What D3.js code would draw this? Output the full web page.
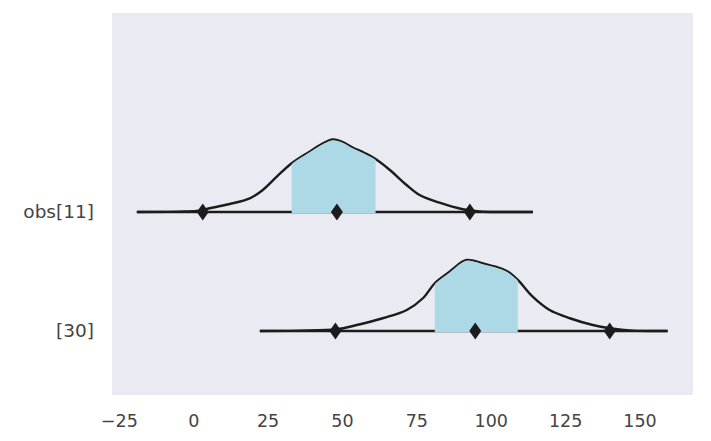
<!DOCTYPE html>
<html>
<head>
<meta charset="utf-8">
<script src="https://cdn.jsdelivr.net/npm/d3@7"></script>
<style>
  html, body { margin: 0; padding: 0; background: #ffffff; }
  svg { display: block; }
</style>
</head>
<body>
<svg id="chart" width="711" height="441"></svg>
<script>
// ---- data ----
const rowLabels = ["obs[11]", "[30]"];
const xTicks = [-25, 0, 25, 50, 75, 100, 125, 150];

// KDE grid (x) and density heights (in row-spacing units) for each row
const kdeX0 = [-19.0, -4.5, 1.2, 5.5, 12.3, 19.0, 23.4, 28.1, 33.1, 39.1, 43.2, 46.9, 49.9, 53.6, 57.6, 61.3, 66.1, 71.7, 76.1, 82.8, 90.6, 96.3, 103.0, 114.1];
const kdeY0 = [0, 0.003, 0.008, 0.031, 0.067, 0.115, 0.185, 0.297, 0.409, 0.507, 0.571, 0.609, 0.592, 0.542, 0.496, 0.445, 0.353, 0.227, 0.143, 0.078, 0.023, 0.004, 0, 0];
const kdeX1 = [22.4, 35.8, 48.2, 55.0, 63.7, 71.8, 77.2, 81.2, 86.2, 90.3, 91.9, 94.6, 98.0, 101.7, 105.4, 109.1, 114.1, 119.8, 126.6, 134.3, 140.0, 147.7, 159.5];
const kdeY1 = [0, 0.003, 0.014, 0.050, 0.107, 0.176, 0.275, 0.401, 0.498, 0.580, 0.597, 0.588, 0.563, 0.540, 0.504, 0.429, 0.288, 0.176, 0.107, 0.050, 0.023, 0.003, 0];

// quantile markers (low, median, high) and shaded HDI per row
const quantiles0 = [3.2, 48.3, 93.0];
const quantiles1 = [47.8, 94.8, 140.0];
const hdi0 = [33.1, 61.3];
const hdi1 = [81.2, 109.1];
// full extent of the baseline per row
const range0 = [-18.8, 114.2];
const range1 = [22.4, 159.4];

// ---- build rows ----
const rows = [
  { label: rowLabels[0], xs: kdeX0, ys: kdeY0, q: quantiles0, hdi: hdi0, range: range0 },
  { label: rowLabels[1], xs: kdeX1, ys: kdeY1, q: quantiles1, hdi: hdi1, range: range1 }
];

const svg = d3.select("#chart");
const pLeft = 112, pRight = 693, pTop = 13, pBottom = 395;

const x = d3.scaleLinear().domain([-27.3, 168.0]).range([pLeft, pRight]);
const y = d3.scaleLinear().domain([-1.672, 1.538]).range([pTop, pBottom]);

svg.append("rect")
  .attr("x", pLeft).attr("y", pTop)
  .attr("width", pRight - pLeft).attr("height", pBottom - pTop)
  .attr("fill", "#eaeaf2");

const defs = svg.append("defs");
const ink = "#1c1c1c";
const curve = d3.curveCatmullRom.alpha(0.5);

rows.forEach((r, i) => {
  const pts = r.xs.map((v, k) => [v, r.ys[k]]);
  const g = svg.append("g");

  // baseline
  g.append("line")
    .attr("x1", x(r.range[0])).attr("x2", x(r.range[1]))
    .attr("y1", y(i)).attr("y2", y(i))
    .attr("stroke", ink).attr("stroke-width", 2.4);

  // kde line
  const line = d3.line().x(d => x(d[0])).y(d => Math.min(y(i - d[1]), y(i))).curve(curve);
  g.append("path").datum(pts)
    .attr("d", line)
    .attr("fill", "none")
    .attr("stroke", ink).attr("stroke-width", 2.4)
    .attr("stroke-linejoin", "round");

  // shaded HDI
  const clipId = "clip" + i;
  defs.append("clipPath").attr("id", clipId)
    .append("rect")
    .attr("x", x(r.hdi[0])).attr("width", x(r.hdi[1]) - x(r.hdi[0]))
    .attr("y", pTop).attr("height", y(i) - pTop + 1.6);
  const area = d3.area().x(d => x(d[0])).y0(y(i) + 1.6).y1(d => y(i - d[1]) + 0.7).curve(curve);
  g.append("path").datum(pts)
    .attr("d", area)
    .attr("fill", "#add8e6")
    .attr("clip-path", "url(#" + clipId + ")");

  // diamonds
  const dw = 6, dh = 8.5;
  g.selectAll("path.dm").data(r.q).enter().append("path")
    .attr("class", "dm")
    .attr("d", d => {
      const cx = x(d), cy = y(i);
      return `M${cx},${cy - dh}L${cx + dw},${cy}L${cx},${cy + dh}L${cx - dw},${cy}Z`;
    })
    .attr("fill", ink);

  // row label
  svg.append("text")
    .attr("x", 94).attr("y", y(i))
    .attr("dy", "0.35em")
    .attr("text-anchor", "end")
    .attr("font-family", "DejaVu Sans")
    .attr("font-size", 18.5)
    .attr("fill", "#444")
    .text(r.label);
});

// x axis tick labels
const xAxis = d3.axisBottom(x).tickValues(xTicks).tickSize(0).tickPadding(0)
  .tickFormat(d => d < 0 ? "\u2212" + Math.abs(d) : String(d));
const ax = svg.append("g").attr("transform", `translate(0,${pBottom})`).call(xAxis);
ax.select(".domain").remove();
ax.selectAll("text")
  .attr("y", 32).attr("dy", null)
  .attr("font-family", "DejaVu Sans")
  .attr("font-size", 17.5)
  .attr("fill", "#444");
</script>
</body>
</html>
